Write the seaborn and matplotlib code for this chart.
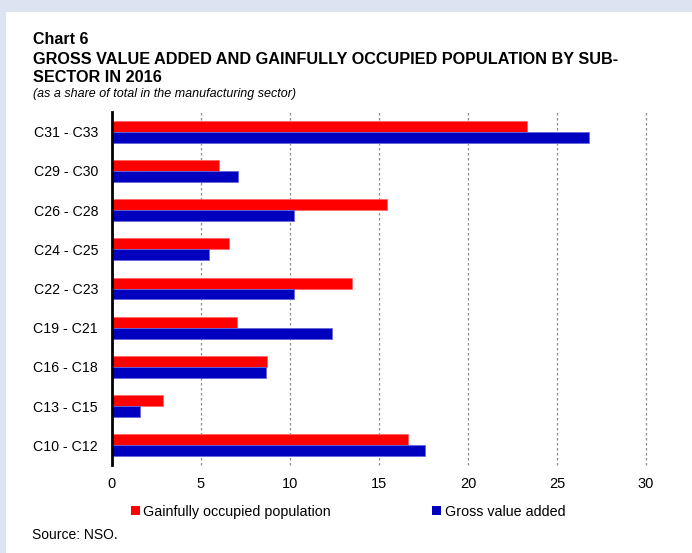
import matplotlib
matplotlib.use("Agg")
import matplotlib.pyplot as plt
import seaborn as sns
import pandas as pd
from matplotlib.patches import Rectangle

categories = ["C31 - C33", "C29 - C30", "C26 - C28", "C24 - C25", "C22 - C23",
              "C19 - C21", "C16 - C18", "C13 - C15", "C10 - C12"]
gainfully = [23.3, 6.0, 15.45, 6.55, 13.5, 7.0, 8.7, 2.85, 16.65]
gva = [26.8, 7.1, 10.25, 5.45, 10.25, 12.35, 8.65, 1.6, 17.6]
series_names = ["Gainfully occupied population", "Gross value added"]
xticks = [0, 5, 10, 15, 20, 25, 30]

df = pd.DataFrame({
    "cat": categories * 2,
    "value": gainfully + gva,
    "series": [series_names[0]] * len(categories) + [series_names[1]] * len(categories),
})

sns.set_theme(style="white")
plt.rcParams["font.family"] = ["Liberation Sans", "DejaVu Sans"]
plt.rcParams["text.color"] = "black"
plt.rcParams["xtick.color"] = "black"
plt.rcParams["ytick.color"] = "black"

fig = plt.figure(figsize=(6.92, 5.53), dpi=100)
fig.patch.set_facecolor("#dde3f0")
fig.patches.append(Rectangle((6 / 692, 0), 1, 1 - 12 / 553, transform=fig.transFigure,
                             facecolor="white", edgecolor="none", zorder=-10))

ax = fig.add_axes([112 / 692, 1 - 465 / 553, (646 - 112) / 692, (465 - 112) / 553])
ax.set_zorder(2)
ax.set_facecolor("none")
palette = {series_names[0]: "#ff0000", series_names[1]: "#0000bf"}
sns.barplot(data=df, y="cat", x="value", hue="series", order=categories,
            hue_order=series_names, palette=palette, orient="h", width=0.56,
            saturation=1, ax=ax, legend=False, linewidth=0.6,
            edgecolor="none")
for p in ax.patches:
    c = p.get_facecolor()
    p.set_edgecolor((c[0] * 0.6 + 0.4, c[1] * 0.6 + 0.4, c[2] * 0.6 + 0.4, 1))
    p.set_zorder(3)

ax.set_xlim(0, 30)
ax.set_xticks(xticks)
ax.set_xticklabels([str(t) for t in xticks], fontsize=10.5)
ax.tick_params(axis="x", length=0, pad=9)
ax.tick_params(axis="y", length=0, pad=10, labelsize=10.2)
ax.set_xlabel("")
ax.set_ylabel("")
for t in xticks[1:]:
    ax.axvline(t, color="#8c8c8c", linestyle=(0, (2, 2)), linewidth=0.9, zorder=1, clip_on=False)
for s in ["top", "right", "bottom"]:
    ax.spines[s].set_visible(False)
ax.spines["left"].set_color("black")
ax.spines["left"].set_linewidth(2)
ax.spines["left"].set_zorder(5)

# Titles
fig.text(33 / 692, 1 - 40 / 553, "Chart 6", fontsize=11.5, fontweight="bold", va="center", ha="left")
fig.text(33 / 692, 1 - 60 / 553, "GROSS VALUE ADDED AND GAINFULLY OCCUPIED POPULATION BY SUB-",
         fontsize=11.7, fontweight="bold", va="center", ha="left")
fig.text(33 / 692, 1 - 77 / 553, "SECTOR IN 2016", fontsize=11.7, fontweight="bold", va="center", ha="left")
fig.text(33 / 692, 1 - 94 / 553, "(as a share of total in the manufacturing sector)",
         fontsize=9, fontstyle="italic", va="center", ha="left")

# Legend
handles = [Rectangle((0, 0), 1, 1, facecolor=palette[n], edgecolor="none") for n in series_names]
fig.legend(handles, series_names, loc="center left", bbox_to_anchor=(131 / 692, 1 - 512 / 553),
           ncol=2, frameon=False, fontsize=10.3, handlelength=0.6, handleheight=0.6,
           handletextpad=0.25, columnspacing=7.1, borderaxespad=0, borderpad=0)

fig.text(32 / 692, 1 - 535 / 553, "Source: NSO.", fontsize=10, va="center", ha="left")

fig.savefig("out.png", dpi=100)
